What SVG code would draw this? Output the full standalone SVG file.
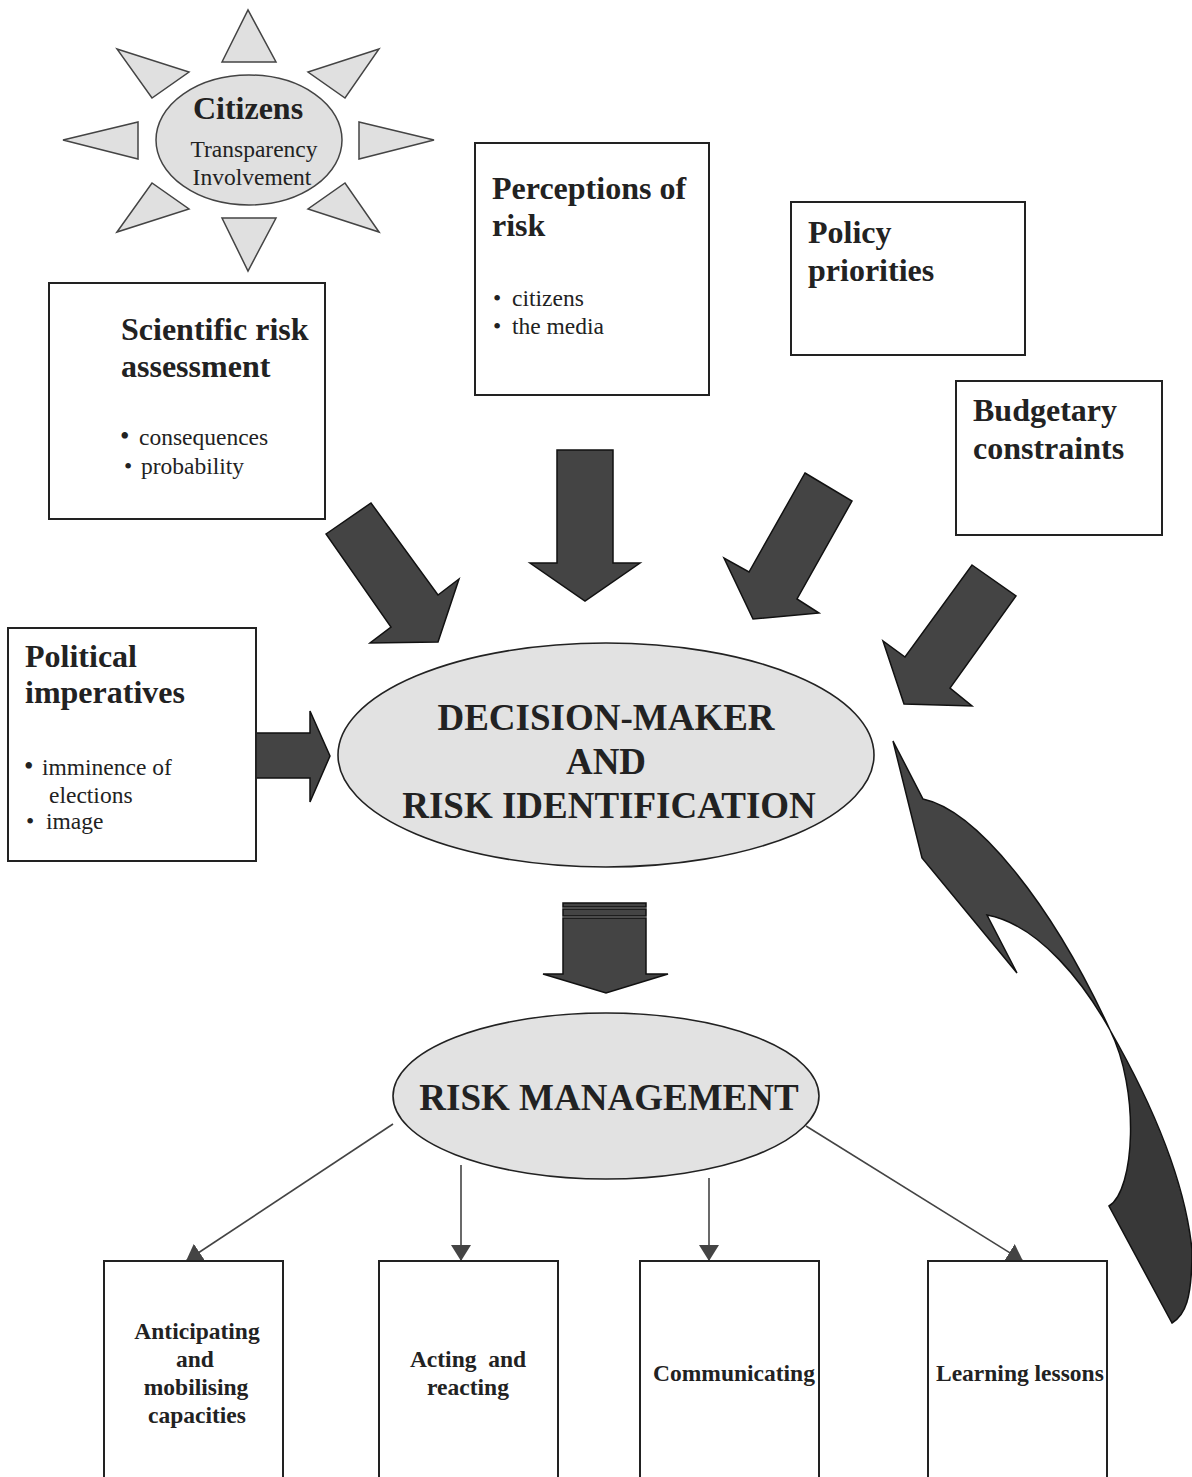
<svg xmlns="http://www.w3.org/2000/svg" width="1192" height="1477" viewBox="0 0 1192 1477">
<style>
text{font-family:"Liberation Serif","Times New Roman",serif;fill:#222}
.h{font-size:32px;font-weight:bold}
.b{font-size:23.5px}
.big{font-size:37px;font-weight:bold}
.lb{font-size:23.5px;font-weight:bold}
.box{fill:#fff;stroke:#222;stroke-width:2}
.ray{fill:#e0e0e0;stroke:#444;stroke-width:1.5;stroke-linejoin:miter}
.ell{fill:#e2e2e2;stroke:#222;stroke-width:1.6}
.fat{fill:#444;stroke:#111;stroke-width:1.5;stroke-linejoin:miter}
.thin{fill:none;stroke:#444;stroke-width:1.6}
</style>
<defs>
<marker id="ah" viewBox="0 0 16 20" refX="16" refY="10" markerWidth="16" markerHeight="20" markerUnits="userSpaceOnUse" orient="auto">
<path d="M0,0 L16,10 L0,20 Z" fill="#444"/>
</marker>
</defs>

<g id="connectors">
<polygon class="fat" points="326,534 371,503 438,595 459,579 438,642 370,643 391,627"/>
<polygon class="fat" points="557,450 613,450 613,563 640,563 585,601 530,563 557,563"/>
<polygon class="fat" points="805,473 852,501 797,599 819,613 753,619 724,558 749,572"/>
<polygon class="fat" points="972,565 1016,596 950,688 972,706 904,704 883,641 905,657"/>
<polygon class="fat" points="256,733 310,733 310,711 330,756 310,802 310,778 256,778"/>
<g id="down-arrow">
<rect x="563" y="903" width="83" height="4" class="fat"/>
<rect x="563" y="909" width="83" height="7" class="fat"/>
<polygon class="fat" points="563,918 646,918 646,974 668,974 606,993 543,974 563,974"/>
</g>
<g id="feedback-arrow">
<path class="fat" d="M893,741 L923,799 C975,810 1050,900 1110,1030 C1085,985 1040,925 987,915 L1017,973 L922,858 Z"/>
<path class="fat" style="fill:#383838" d="M1110,1030 C1150,1100 1185,1180 1192,1250 C1192,1300 1185,1315 1172,1323 L1109,1206 C1135,1190 1140,1090 1110,1030 Z"/>
</g>
<line class="thin" x1="393" y1="1124" x2="186" y2="1261" marker-end="url(#ah)"/>
<line class="thin" x1="461" y1="1165" x2="461" y2="1261" marker-end="url(#ah)"/>
<line class="thin" x1="709" y1="1178" x2="709" y2="1261" marker-end="url(#ah)"/>
<line class="thin" x1="806" y1="1126" x2="1023" y2="1261" marker-end="url(#ah)"/>
</g>

<g id="citizens">
<polygon class="ray" points="222,62 248,10 276,62"/>
<polygon class="ray" points="117,49 189,72 152,98"/>
<polygon class="ray" points="379,49 308,72 345,98"/>
<polygon class="ray" points="63,140 138,122 138,159"/>
<polygon class="ray" points="359,122 434,140 359,159"/>
<polygon class="ray" points="117,232 152,183 189,209"/>
<polygon class="ray" points="379,232 345,183 308,209"/>
<polygon class="ray" points="222,218 276,218 248,271"/>
<ellipse class="ray" cx="249" cy="140" rx="93" ry="65"/>
<text x="248" y="119" text-anchor="middle" style="font-size:32px;font-weight:bold">Citizens</text>
<text x="254" y="157" text-anchor="middle" class="b">Transparency</text>
<text x="252" y="185" text-anchor="middle" class="b">Involvement</text>
</g>

<g id="scientific">
<rect class="box" x="49" y="283" width="276" height="236"/>
<text x="121" y="340" class="h">Scientific risk</text>
<text x="121" y="377" class="h">assessment</text>
<text x="120" y="445" class="b" style="font-size:27px">•</text>
<text x="139" y="445" class="b">consequences</text>
<text x="124" y="474" class="b">•</text>
<text x="141" y="474" class="b">probability</text>
</g>

<g id="perceptions">
<rect class="box" x="475" y="143" width="234" height="252"/>
<text x="492" y="199" class="h">Perceptions of</text>
<text x="492" y="236" class="h">risk</text>
<text x="493" y="306" class="b">•</text>
<text x="512" y="306" class="b">citizens</text>
<text x="493" y="334" class="b">•</text>
<text x="512" y="334" class="b">the media</text>
</g>

<g id="policy">
<rect class="box" x="791" y="202" width="234" height="153"/>
<text x="808" y="243" class="h">Policy</text>
<text x="808" y="281" class="h">priorities</text>
</g>

<g id="budget">
<rect class="box" x="956" y="381" width="206" height="154"/>
<text x="973" y="421" class="h">Budgetary</text>
<text x="973" y="459" class="h">constraints</text>
</g>

<g id="political">
<rect class="box" x="8" y="628" width="248" height="233"/>
<text x="25" y="667" class="h">Political</text>
<text x="25" y="703" class="h">imperatives</text>
<text x="24" y="775" class="b" style="font-size:27px">•</text>
<text x="42" y="775" class="b">imminence of</text>
<text x="49" y="803" class="b">elections</text>
<text x="26" y="829" class="b">•</text>
<text x="46" y="829" class="b">image</text>
</g>

<g id="decision-maker">
<ellipse class="ell" cx="606" cy="755" rx="268" ry="112"/>
<text x="606" y="730" text-anchor="middle" class="big">DECISION-MAKER</text>
<text x="606" y="774" text-anchor="middle" class="big">AND</text>
<text x="609" y="818" text-anchor="middle" class="big">RISK IDENTIFICATION</text>
</g>

<g id="risk-management">
<ellipse class="ell" cx="606" cy="1096" rx="213" ry="83"/>
<text x="609" y="1110" text-anchor="middle" class="big">RISK MANAGEMENT</text>
</g>

<g id="anticipating">
<rect class="box" x="104" y="1261" width="179" height="222"/>
<text x="197" y="1339" text-anchor="middle" class="lb">Anticipating</text>
<text x="195" y="1367" text-anchor="middle" class="lb">and</text>
<text x="196" y="1395" text-anchor="middle" class="lb">mobilising</text>
<text x="197" y="1423" text-anchor="middle" class="lb">capacities</text>
</g>

<g id="acting">
<rect class="box" x="379" y="1261" width="179" height="222"/>
<text x="468" y="1367" text-anchor="middle" class="lb" style="white-space:pre">Acting  and</text>
<text x="468" y="1395" text-anchor="middle" class="lb">reacting</text>
</g>

<g id="communicating">
<rect class="box" x="640" y="1261" width="179" height="222"/>
<text x="734" y="1381" text-anchor="middle" class="lb">Communicating</text>
</g>

<g id="learning">
<rect class="box" x="928" y="1261" width="179" height="222"/>
<text x="936" y="1381" class="lb">Learning lessons</text>
</g>
</svg>
